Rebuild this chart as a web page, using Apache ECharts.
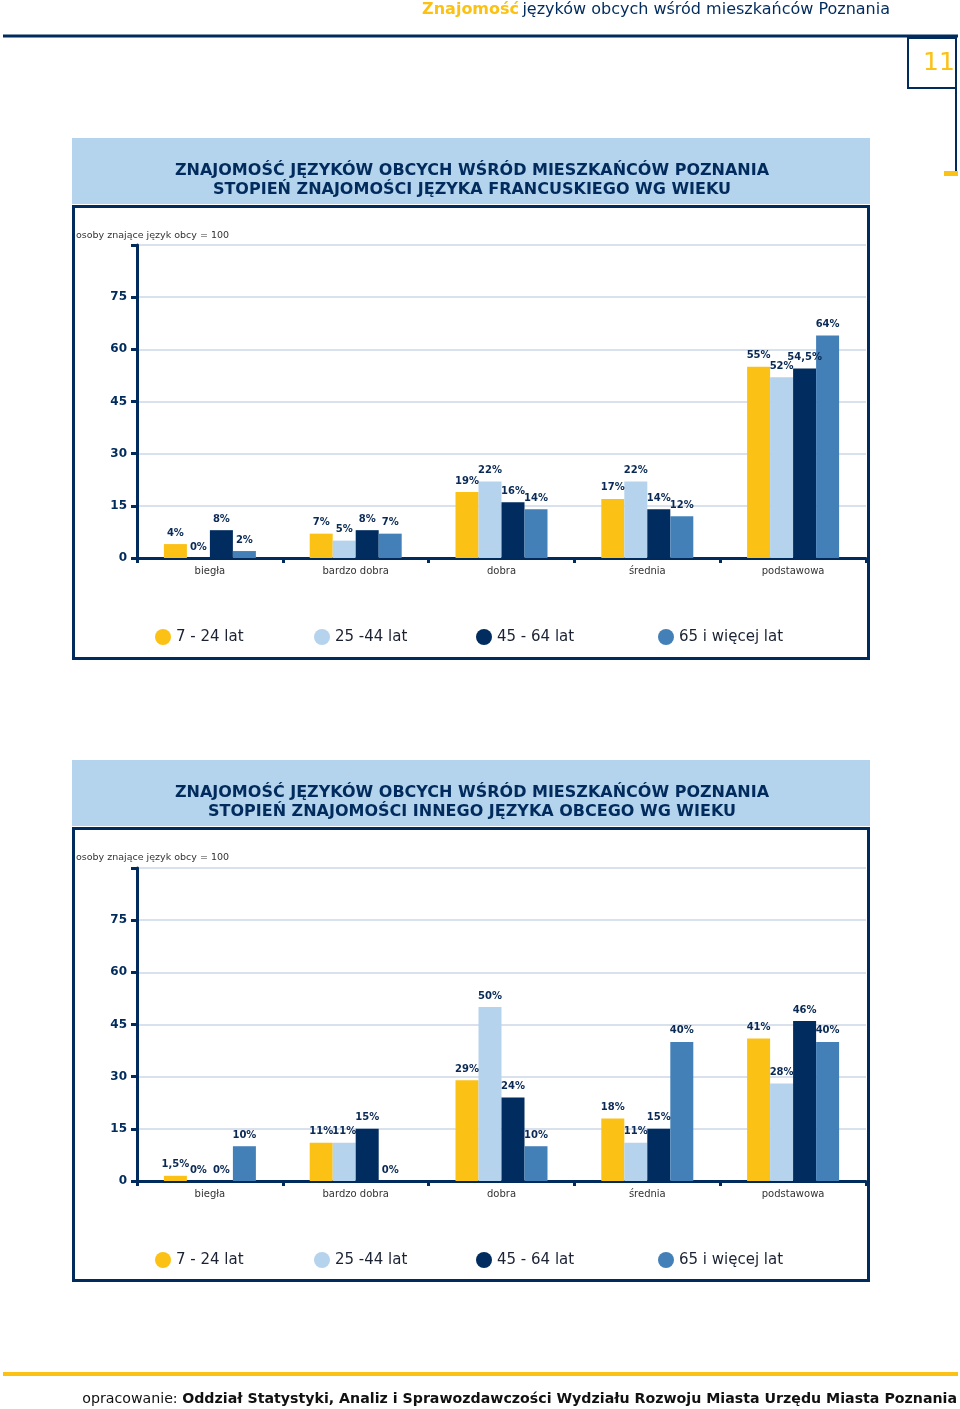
<!DOCTYPE html>
<html>
<head>
<meta charset="utf-8">
<script src="https://cdn.jsdelivr.net/npm/echarts@6/dist/echarts.min.js"></script>
<style>
html,body{margin:0;padding:0;background:#fff;}
#c{width:960px;height:1409px;}
</style>
</head>
<body>
<div id="c"></div>
<script>
// ---- data ----
const categories = ['biegła', 'bardzo dobra', 'dobra', 'średnia', 'podstawowa'];
const seriesNames = ['7 - 24 lat', '25 -44 lat', '45 - 64 lat', '65 i więcej lat'];
const yTicks = [0, 15, 30, 45, 60, 75];

// Chart 1: French
const fr_7_24 = [4, 7, 19, 17, 55];
const fr_25_44 = [0, 5, 22, 22, 52];
const fr_45_64 = [8, 8, 16, 14, 54.5];
const fr_65 = [2, 7, 14, 12, 64];

// Chart 2: other foreign language
const ot_7_24 = [1.5, 11, 29, 18, 41];
const ot_25_44 = [0, 11, 50, 11, 28];
const ot_45_64 = [0, 15, 24, 15, 46];
const ot_65 = [10, 0, 10, 40, 40];

const titles1 = ['ZNAJOMOŚĆ JĘZYKÓW OBCYCH WŚRÓD MIESZKAŃCÓW POZNANIA', 'STOPIEŃ ZNAJOMOŚCI JĘZYKA FRANCUSKIEGO WG WIEKU'];
const titles2 = ['ZNAJOMOŚĆ JĘZYKÓW OBCYCH WŚRÓD MIESZKAŃCÓW POZNANIA', 'STOPIEŃ ZNAJOMOŚCI INNEGO JĘZYKA OBCEGO WG WIEKU'];

// ---- styles ----
const NAVY = '#002b5c';
const YEL = '#fcc115';
const colors = ['#fcc115', '#b5d3ec', '#002c5f', '#4480b8'];
const FONT = 'DejaVu Sans, Verdana, sans-serif';

const chart = echarts.init(document.getElementById('c'));

function xAxis(gi) {
  return {
    type: 'category', gridIndex: gi, data: categories,
    axisLine: {lineStyle: {color: NAVY, width: 3}},
    axisTick: {show: true, length: 5, lineStyle: {color: NAVY, width: 3}},
    axisLabel: {fontFamily: FONT, fontSize: 10, color: '#333', margin: 8}
  };
}
function yAxis(gi) {
  return {
    type: 'value', gridIndex: gi, min: 0, max: 90, interval: 15,
    axisLine: {show: true, lineStyle: {color: NAVY, width: 3}},
    axisTick: {show: true, length: 6, lineStyle: {color: NAVY, width: 3}},
    axisLabel: {fontFamily: FONT, fontSize: 12, fontWeight: 'bold', color: NAVY, margin: 10,
      formatter: v => (yTicks.indexOf(v) >= 0 ? String(v) : '')},
    splitLine: {lineStyle: {color: '#cdd9e6', width: 1.5}}
  };
}
function mkSeries(gi, arrs) {
  return arrs.map((d, i) => ({
    type: 'bar', name: seriesNames[i], xAxisIndex: gi, yAxisIndex: gi,
    data: d, barWidth: 23, barGap: '0%',
    itemStyle: {color: colors[i]},
    label: {show: true, position: 'top', distance: 6, fontFamily: FONT, fontSize: 10,
      fontWeight: 'bold', color: '#0a2a55',
      formatter: p => String(p.value).replace('.', ',') + '%'}
  }));
}
const legendLefts = [150, 309, 471, 653];
function legends(top) {
  return seriesNames.map((n, i) => ({
    data: [n], left: legendLefts[i], top: top, icon: 'circle', itemWidth: 16, itemHeight: 16,
    selectedMode: false, itemGap: 5,
    textStyle: {fontFamily: FONT, fontSize: 15, color: '#1b2233'}
  }));
}

function chartFrame(y0, titles) {
  // y0 = top of title band
  return [
    {type: 'rect', shape: {x: 72, y: y0, width: 798, height: 66}, style: {fill: '#b4d3ec'}, z: 0},
    {type: 'text', style: {text: titles[0], x: 472, y: y0 + 33, align: 'center', verticalAlign: 'middle',
      fontFamily: FONT, fontSize: 16, fontWeight: 'bold', fill: NAVY}, z: 5},
    {type: 'text', style: {text: titles[1], x: 472, y: y0 + 52, align: 'center', verticalAlign: 'middle',
      fontFamily: FONT, fontSize: 16, fontWeight: 'bold', fill: NAVY}, z: 5},
    {type: 'rect', shape: {x: 73.5, y: y0 + 68.5, width: 795, height: 452}, style: {fill: 'none', stroke: NAVY, lineWidth: 3}, z: 10},
    {type: 'text', style: {text: 'osoby znające język obcy = 100', x: 76, y: y0 + 98, verticalAlign: 'middle',
      fontFamily: FONT, fontSize: 9.5, fill: '#333'}, z: 5}
  ];
}

const graphic = [
  // header
  {type: 'text', style: {text: '{a|Znajomość} {b|języków obcych wśród mieszkańców Poznania}', x: 890, y: 10, align: 'right', verticalAlign: 'middle',
    rich: {a: {fontFamily: FONT, fontSize: 16, fontWeight: 'bold', fill: YEL, color: YEL},
           b: {fontFamily: FONT, fontSize: 16, fill: NAVY, color: NAVY}}}},
  {type: 'line', shape: {x1: 3, y1: 36, x2: 958, y2: 36}, style: {stroke: NAVY, lineWidth: 3}},
  {type: 'line', shape: {x1: 956, y1: 36, x2: 956, y2: 172}, style: {stroke: NAVY, lineWidth: 2}},
  {type: 'rect', shape: {x: 944, y: 171, width: 14, height: 5}, style: {fill: YEL}},
  {type: 'rect', shape: {x: 908, y: 38, width: 48, height: 50}, style: {fill: '#fff', stroke: NAVY, lineWidth: 2}},
  {type: 'text', style: {text: '11', x: 939, y: 63, align: 'center', verticalAlign: 'middle', fontFamily: FONT, fontSize: 25, fill: YEL}},
  // footer
  {type: 'line', shape: {x1: 3, y1: 1374, x2: 958, y2: 1374}, style: {stroke: YEL, lineWidth: 4}},
  {type: 'text', style: {text: '{a|opracowanie: }{b|Oddział Statystyki, Analiz i Sprawozdawczości Wydziału Rozwoju Miasta Urzędu Miasta Poznania}',
    x: 957, y: 1399, align: 'right', verticalAlign: 'middle',
    rich: {a: {fontFamily: FONT, fontSize: 14.2, fill: '#111', color: '#111'},
           b: {fontFamily: FONT, fontSize: 14.2, fontWeight: 'bold', fill: '#111', color: '#111'}}}}
].concat(chartFrame(138, titles1), chartFrame(760, titles2));

chart.setOption({
  animation: false,
  textStyle: {fontFamily: FONT},
  grid: [
    {left: 137, width: 729, top: 245, height: 313},
    {left: 137, width: 729, top: 868, height: 313}
  ],
  xAxis: [xAxis(0), xAxis(1)],
  yAxis: [yAxis(0), yAxis(1)],
  legend: legends(624).concat(legends(1247)),
  series: mkSeries(0, [fr_7_24, fr_25_44, fr_45_64, fr_65]).concat(mkSeries(1, [ot_7_24, ot_25_44, ot_45_64, ot_65])),
  graphic: graphic
});
</script>
</body>
</html>
